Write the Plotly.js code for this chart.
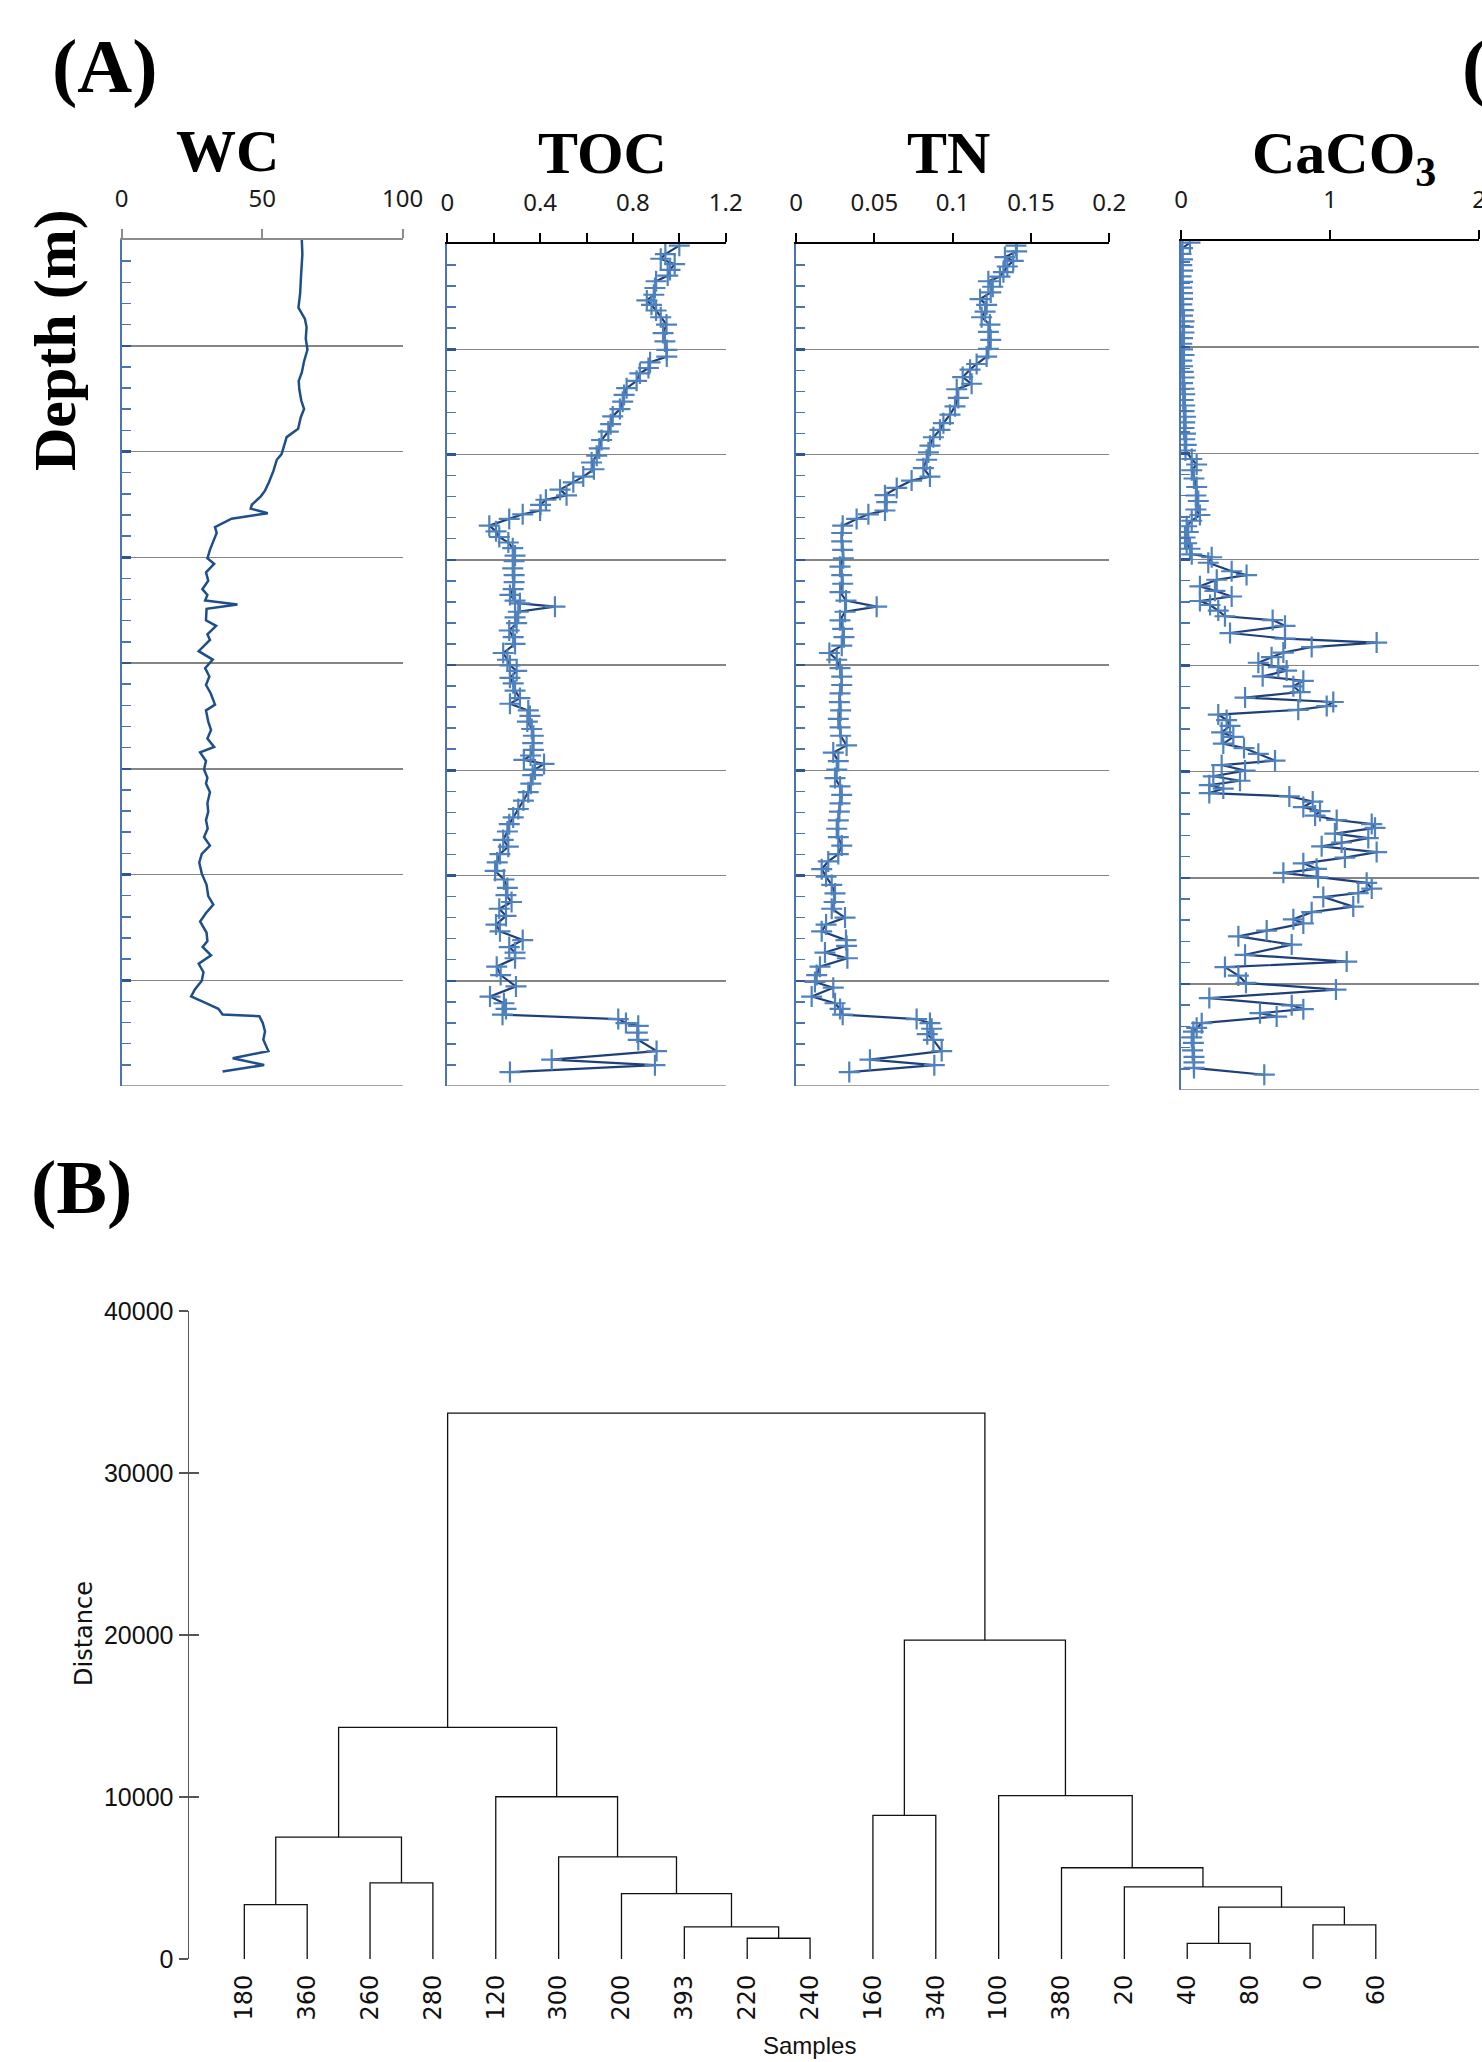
<!DOCTYPE html>
<html>
<head>
<meta charset="utf-8">
<script src="https://cdn.plot.ly/plotly-3.0.1.min.js"></script>
<style>html,body{margin:0;padding:0;background:#fff;overflow:hidden;}#chart{width:1482px;height:2062px;}</style>
</head>
<body>
<div id="chart"></div>
<script>
// ---------------- DATA ----------------
const wcDepth = [0,6.7,17.3,25.3,32.0,37.3,41.3,46.6,51.9,57.3,62.6,66.6,70.6,75.9,79.9,83.9,89.2,93.2,97.2,101.2,103.9,109.2,114.5,118.5,121.2,125.2,127.0,129.2,131.8,135.8,138.5,142.5,146.5,150.5,153.1,157.1,161.1,165.1,167.8,170.4,172.3,174.4,179.8,182.4,186.4,189.1,194.4,198.4,202.4,206.4,210.4,214.4,219.7,222.4,227.7,231.7,235.7,239.7,242.3,246.3,250.3,254.3,257.0,261.0,266.3,270.3,274.3,278.3,282.3,286.3,290.3,294.3,299.6,304.9,310.2,314.2,318.2,322.2,327.5,331.5,334.2,338.2,342.2,346.2,350.2,354.2,357.6,360.8,363.5,366.2,367.0,370.2,374.2,378.1,383.5,386.9,390.1,393.1];
const wcValue = [64.1,64.3,63.8,63.5,62.9,65.2,65.8,65.5,66.1,64.9,64.1,63.0,63.2,63.9,64.9,63.7,62.8,58.7,57.8,56.9,55.2,54.0,52.4,51.0,49.5,46.3,45.9,52.0,39.1,33.2,33.8,32.6,31.4,30.5,32.9,30.0,30.8,28.7,30.5,29.7,41.2,30.2,30.0,33.6,30.5,31.4,27.4,32.4,29.7,31.2,30.0,31.7,33.2,30.0,30.8,31.8,30.5,32.9,27.9,30.0,29.3,30.5,30.0,31.4,30.5,30.8,30.0,30.6,29.3,31.4,28.5,27.6,28.5,30.2,30.8,32.6,30.0,27.9,30.2,30.5,28.8,31.8,27.4,29.1,28.5,26.1,24.7,30.0,34.4,35.9,49.0,50.2,51.0,50.4,52.2,39.5,50.7,35.9];

const tocDepth = [0.8,4.8,7.0,9.6,12.3,15.0,17.7,20.9,24.1,26.8,28.9,31.6,34.8,38.3,42.3,46.3,50.3,53.5,56.2,58.9,61.5,65.0,68.5,71.7,74.9,78.4,81.9,85.6,89.1,93.1,97.1,100.6,103.8,107.0,110.5,113.2,116.7,119.4,121.5,123.9,126.6,128.4,130.6,133.8,136.5,139.2,141.8,144.5,148.0,150.7,154.1,157.3,160.6,164.0,166.7,169.4,170.7,172.3,174.7,177.4,180.1,183.6,186.8,190.0,194.3,197.5,200.2,202.8,206.1,208.7,212.2,215.7,218.4,221.6,224.2,226.9,230.4,233.6,237.1,240.3,243.0,245.1,247.0,249.7,252.3,256.4,260.4,264.4,268.4,272.4,275.6,279.1,283.1,286.3,289.8,293.8,297.8,301.9,305.9,309.3,312.6,315.8,319.2,323.3,326.5,330.7,334.0,336.6,339.3,343.3,347.3,352.7,357.5,360.7,363.4,366.1,368.2,370.1,371.4,374.6,378.1,383.4,387.5,390.1,393.4];
const tocValue = [1.00,0.94,0.92,0.98,0.96,0.95,0.90,0.895,0.89,0.86,0.88,0.90,0.92,0.945,0.93,0.938,0.946,0.946,0.874,0.867,0.83,0.816,0.773,0.762,0.756,0.744,0.713,0.704,0.694,0.665,0.655,0.644,0.622,0.632,0.586,0.543,0.486,0.514,0.425,0.402,0.40,0.325,0.267,0.181,0.21,0.224,0.263,0.282,0.292,0.288,0.282,0.288,0.288,0.284,0.27,0.292,0.313,0.464,0.306,0.292,0.299,0.267,0.284,0.292,0.241,0.259,0.27,0.299,0.27,0.284,0.292,0.313,0.27,0.349,0.356,0.345,0.364,0.371,0.368,0.371,0.359,0.33,0.417,0.378,0.368,0.36,0.349,0.328,0.306,0.284,0.267,0.259,0.241,0.263,0.227,0.215,0.206,0.244,0.259,0.253,0.277,0.224,0.253,0.21,0.227,0.325,0.267,0.292,0.292,0.213,0.23,0.296,0.184,0.244,0.253,0.238,0.737,0.77,0.823,0.819,0.823,0.902,0.45,0.895,0.27];

const tnDepth = [0.8,3.5,6.2,8.0,10.7,13.4,15.5,17.7,20.3,23.0,26.2,28.9,32.1,34.8,38.3,41.7,45.5,49.8,53.5,57.0,59.7,63.2,66.4,69.0,73.1,77.1,81.1,85.1,88.3,91.8,95.8,99.0,102.5,106.5,110.5,112.4,115.9,119.3,122.6,126.6,128.4,130.6,133.8,137.3,141.3,145.3,149.3,153.3,157.3,161.4,165.4,169.4,172.3,174.7,178.8,182.8,186.8,190.8,194.3,197.5,201.5,205.5,209.5,213.5,217.6,221.6,225.6,229.6,233.6,238.2,241.6,245.7,249.7,253.7,257.7,261.7,265.7,269.7,273.8,277.8,281.8,285.8,289.8,293.3,297.0,300.5,304.5,308.5,312.6,315.8,320.0,323.3,326.5,330.7,333.4,336.6,339.3,343.3,347.3,350.6,353.3,357.5,360.7,363.4,366.1,368.2,370.1,372.8,375.4,378.1,383.4,387.5,390.1,393.4];
const tnValue = [0.1404,0.1409,0.1334,0.1387,0.1349,0.1324,0.1302,0.1228,0.1256,0.1243,0.1175,0.1217,0.1207,0.1185,0.1238,0.1228,0.1243,0.1228,0.1217,0.1153,0.1111,0.1064,0.1121,0.1026,0.1036,0.1015,0.0983,0.0941,0.0919,0.0877,0.0855,0.0845,0.0834,0.0813,0.0855,0.0738,0.0643,0.0568,0.0579,0.0568,0.0462,0.0387,0.0298,0.0292,0.0292,0.0298,0.0302,0.0281,0.0292,0.0298,0.0281,0.0319,0.0515,0.0313,0.0281,0.0298,0.0306,0.0292,0.0213,0.026,0.0281,0.0292,0.0292,0.0281,0.0277,0.0285,0.027,0.0281,0.0285,0.0323,0.0238,0.027,0.026,0.0249,0.0281,0.0292,0.0281,0.0277,0.027,0.026,0.027,0.0292,0.027,0.0206,0.0164,0.0192,0.0228,0.0249,0.0243,0.0228,0.0313,0.0192,0.0164,0.0319,0.0323,0.0185,0.0328,0.0153,0.0132,0.0121,0.0238,0.01,0.0249,0.0281,0.0298,0.077,0.0855,0.0866,0.0838,0.0877,0.093,0.0472,0.0883,0.034];

const caDepth = [0.8,3.4,6.1,8.7,11.4,14.0,16.7,19.3,22.0,24.6,27.3,29.9,32.6,35.2,37.9,40.5,43.1,45.8,48.4,51.1,53.7,56.4,59.0,61.7,64.3,67.0,69.6,72.2,74.9,77.5,80.2,82.8,85.5,88.1,90.8,93.4,96.1,98.7,
102.7,105.3,108.0,111.9,115.9,119.9,122.5,126.5,129.1,131.8,134.4,137.1,139.7,142.4,145.0,147.6,149.0,151.6,155.6,157.4,159.6,162.7,164.8,167.5,169.6,171.5,174.1,176.8,178.6,181.3,184.7,187.3,189.2,191.3,193.9,196.1,198.7,200.8,202.4,205.1,207.2,209.8,212.5,215.1,217.2,219.1,220.9,223.1,225.7,228.4,231.5,233.6,236.8,238.9,241.6,244.8,246.9,249.5,252.2,254.3,256.4,258.0,260.1,261.7,264.1,266.7,268.6,270.7,272.8,274.7,276.5,279.2,281.3,283.4,285.2,287.9,290.5,293.2,295.8,297.7,299.8,302.4,305.1,307.2,309.1,313.6,316.2,319.6,321.5,324.9,327.6,331.5,336.3,339.5,342.1,346.1,349.5,352.7,356.7,360.1,361.9,363.8,365.4,368.5,370.7,372.5,375.2,377.8,381.3,384.4,387.0,389.6,392.8];
const caValue = [0.06,0.01,0.0,0.01,0.005,0.01,0.0,0.01,0.005,0.01,0.01,0.005,0.015,0.01,0.02,0.015,0.02,0.01,0.005,0.01,0.02,0.005,0.01,0.015,0.02,0.01,0.02,0.025,0.015,0.025,0.02,0.03,0.025,0.02,0.03,0.025,0.035,0.03,
0.072,0.105,0.072,0.087,0.105,0.10,0.116,0.10,0.127,0.072,0.038,0.049,0.027,0.038,0.06,0.072,0.206,0.183,0.34,0.44,0.24,0.127,0.228,0.34,0.127,0.195,0.25,0.295,0.615,0.698,0.329,0.698,1.313,0.877,0.687,0.608,0.519,0.653,0.709,0.548,0.821,0.754,0.80,0.43,1.022,0.978,0.787,0.25,0.306,0.329,0.273,0.351,0.284,0.423,0.519,0.631,0.273,0.43,0.217,0.396,0.19,0.284,0.19,0.727,0.884,0.821,0.933,0.90,1.045,1.28,1.302,1.033,1.257,1.078,0.944,1.313,1.10,0.821,0.91,0.687,0.92,1.246,1.28,1.19,0.955,1.156,0.877,0.754,0.821,0.575,0.385,0.743,0.43,1.112,0.295,0.385,0.436,1.04,0.19,0.743,0.821,0.53,0.642,0.139,0.105,0.083,0.072,0.083,0.078,0.087,0.087,0.087,0.559];

const wcTicks = [0, 50, 100];
const tocTicks = [0, 0.4, 0.8, 1.2];
const tnTicks = [0, 0.05, 0.1, 0.15, 0.2];
const caTicks = [0, 1, 2];

// Dendrogram
const leaves = ["180","360","260","280","120","300","200","393","220","240","160","340","100","380","20","40","80","0","60"];
const mergeLeft   = ["40","220","393","0","m0","180","200","20","260","380","300","m5","160","120","100","m11","m12","m15"];
const mergeRight  = ["80","240","m1","60","m3","360","m2","m4","280","m7","m6","m8","340","m10","m9","m13","m14","m16"];
const mergeHeight = [960,1280,1984,2112,3200,3360,4032,4448,4704,5632,6304,7520,8864,10016,10080,14304,19680,33696];
const distTicks = [0, 10000, 20000, 30000, 40000];

// ---------------- LAYOUT HELPERS ----------------
const W = 1482, H = 2062;
const xd = (a, b) => [a / W, b / W];
const yd = (top, bot) => [1 - bot / H, 1 - top / H];
const px = v => v / W;
const py = v => 1 - v / H;

const blueAxis = '#4a74b4';
const lineCol = '#1f3f7a';
const markCol = '#4f81bd';

function depthAxis(domain, anchor) {
  return {
    domain: domain, anchor: anchor, range: [400, 0], autorange: false,
    tickmode: 'linear', tick0: 0, dtick: 50,
    ticks: 'inside', ticklen: 9, tickwidth: 2.5, tickcolor: '#2f5597',
    showticklabels: false, showline: true, linecolor: blueAxis, linewidth: 2,
    showgrid: true, gridcolor: '#858585', gridwidth: 1.5, zeroline: false,
    minor: {tick0: 0, dtick: 10, ticks: 'inside', ticklen: 9, tickwidth: 1.5, tickcolor: blueAxis, showgrid: false},
    fixedrange: true
  };
}
function valueAxis(domain, anchor, range, ticks, color, minorDtick) {
  const ax = {
    domain: domain, anchor: anchor, side: 'top', range: range, autorange: false,
    tickmode: 'array', tickvals: ticks,
    ticks: 'outside', ticklen: 9, tickwidth: 2, tickcolor: color,
    showline: true, linecolor: color, linewidth: 2,
    showgrid: false, zeroline: false,
    tickfont: {family: 'Noto Sans, Open Sans, sans-serif', size: 24, color: '#1a1a1a'},
    ticklabelstandoff: 12, ticklabeloverflow: 'allow', fixedrange: true
  };
  if (minorDtick) ax.minor = {tick0: 0, dtick: minorDtick, ticks: 'outside', ticklen: 9, tickwidth: 2, tickcolor: color, showgrid: false};
  return ax;
}

// ---------------- TRACES ----------------
const markerStyle = {symbol: 'cross-thin-open', size: 15, color: markCol, line: {color: markCol, width: 2.2}};
const traces = [
  {x: wcValue, y: wcDepth, xaxis: 'x', yaxis: 'y', mode: 'lines', line: {color: '#1f4e8c', width: 2.5}, hoverinfo: 'skip'},
  {x: tocValue, y: tocDepth, xaxis: 'x2', yaxis: 'y2', mode: 'lines+markers', line: {color: lineCol, width: 2.2}, marker: markerStyle, hoverinfo: 'skip'},
  {x: tnValue, y: tnDepth, xaxis: 'x3', yaxis: 'y3', mode: 'lines+markers', line: {color: lineCol, width: 2.2}, marker: markerStyle, hoverinfo: 'skip'},
  {x: caValue, y: caDepth, xaxis: 'x4', yaxis: 'y4', mode: 'lines+markers', line: {color: lineCol, width: 2.2}, marker: markerStyle, hoverinfo: 'skip'}
];

// dendrogram links built from merge table
const nodePos = {}, nodeH = {};
leaves.forEach((l, i) => { nodePos[l] = i; nodeH[l] = 0; });
const dx = [], dy = [];
mergeHeight.forEach((h, i) => {
  const a = mergeLeft[i], b = mergeRight[i];
  const xa = nodePos[a], xb = nodePos[b];
  dx.push(xa, xa, xb, xb, null);
  dy.push(nodeH[a], h, h, nodeH[b], null);
  nodePos['m' + i] = (xa + xb) / 2;
  nodeH['m' + i] = h;
});
traces.push({x: dx, y: dy, xaxis: 'x5', yaxis: 'y5', mode: 'lines', line: {color: '#111', width: 1.3}, hoverinfo: 'skip', connectgaps: false});
traces.push({x: [0], y: [0], xaxis: 'x5', yaxis: 'y6', mode: 'markers', marker: {opacity: 0}, hoverinfo: 'skip'});

// ---------------- LAYOUT ----------------
const pWC = {x: xd(121.7, 402.7), y: yd(240, 1086)};
const pTOC = {x: xd(447.3, 725.7), y: yd(244, 1086)};
const pTN = {x: xd(796, 1109.3), y: yd(244, 1086)};
const pCA = {x: xd(1181, 1479), y: yd(241, 1090)};

const titleFont = {family: 'Liberation Serif, Times New Roman, serif', size: 60, color: '#000', weight: 'bold'};
const bigFont = {family: 'Liberation Serif, Times New Roman, serif', size: 76, color: '#000', weight: 'bold'};
const sansFont = {family: 'Liberation Sans, Arial, sans-serif', size: 24, color: '#111'};

function ann(text, x, y, font, extra) {
  return Object.assign({text: text, x: px(x), y: py(y), xref: 'paper', yref: 'paper', showarrow: false, xanchor: 'center', yanchor: 'middle', font: font}, extra || {});
}

const layout = {
  width: W, height: H, margin: {l: 0, r: 0, t: 0, b: 0},
  paper_bgcolor: '#fff', plot_bgcolor: 'rgba(0,0,0,0)', showlegend: false,
  xaxis: valueAxis(pWC.x, 'y', [0, 100], wcTicks, '#8c8c8c'),
  yaxis: depthAxis(pWC.y, 'x'),
  xaxis2: valueAxis(pTOC.x, 'y2', [0, 1.2], tocTicks, '#000', 0.2),
  yaxis2: depthAxis(pTOC.y, 'x2'),
  xaxis3: valueAxis(pTN.x, 'y3', [0, 0.2], tnTicks, '#000'),
  yaxis3: depthAxis(pTN.y, 'x3'),
  xaxis4: valueAxis(pCA.x, 'y4', [0, 2], caTicks, '#000'),
  yaxis4: depthAxis(pCA.y, 'x4'),
  xaxis5: {
    domain: xd(189, 1430), anchor: 'y5', range: [-0.88, 18.862], autorange: false,
    tickmode: 'array', tickvals: leaves.map((l, i) => i), ticktext: leaves, tickangle: -90,
    ticks: '', showline: false, showgrid: false, zeroline: false,
    tickfont: {family: 'DejaVu Sans, sans-serif', size: 24, color: '#111'},
    ticklabelstandoff: 10, fixedrange: true
  },
  yaxis5: {
    domain: yd(1311, 1959), anchor: 'x5', range: [0, 40000], autorange: false,
    tickmode: 'array', tickvals: distTicks, tickformat: 'd',
    ticks: 'outside', ticklen: 9, tickwidth: 1.5, tickcolor: '#555',
    showline: true, linecolor: '#555', linewidth: 1.5, showgrid: false, zeroline: false,
    tickfont: {family: 'Liberation Sans, Arial, sans-serif', size: 25, color: '#111'},
    ticklabelstandoff: 0, fixedrange: true
  },
  yaxis6: {
    overlaying: 'y5', anchor: 'x5', range: [0, 40000], autorange: false,
    tickmode: 'array', tickvals: distTicks, ticks: 'inside', ticklen: 10, tickwidth: 1.5, tickcolor: '#555',
    showticklabels: false, showline: false, showgrid: false, zeroline: false, fixedrange: true
  },
  shapes: [
    {type: 'line', xref: 'x domain', yref: 'y', x0: 0, x1: 1, y0: 400, y1: 400, line: {color: '#858585', width: 1.5}},
    {type: 'line', xref: 'x2 domain', yref: 'y2', x0: 0, x1: 1, y0: 400, y1: 400, line: {color: '#858585', width: 1.5}},
    {type: 'line', xref: 'x3 domain', yref: 'y3', x0: 0, x1: 1, y0: 400, y1: 400, line: {color: '#858585', width: 1.5}},
    {type: 'line', xref: 'x4 domain', yref: 'y4', x0: 0, x1: 1, y0: 400, y1: 400, line: {color: '#858585', width: 1.5}}
  ],
  annotations: [
    ann('(A)', 105, 67, bigFont),
    ann('(', 1460, 67, bigFont, {xanchor: 'left'}),
    ann('WC', 227, 151, titleFont),
    ann('TOC', 602, 153, titleFont),
    ann('TN', 948, 153, titleFont),
    ann('CaCO<sub>3</sub>', 1344, 157, titleFont),
    ann('Depth (m)', 55, 340, titleFont, {textangle: -90}),
    ann('(B)', 81, 1187, bigFont),
    ann('Distance', 84, 1634, {family: 'DejaVu Sans, sans-serif', size: 24, color: '#111'}, {textangle: -90}),
    ann('Samples', 809, 2045, sansFont)
  ]
};

Plotly.newPlot('chart', traces, layout, {staticPlot: true, displayModeBar: false});
</script>
</body>
</html>
